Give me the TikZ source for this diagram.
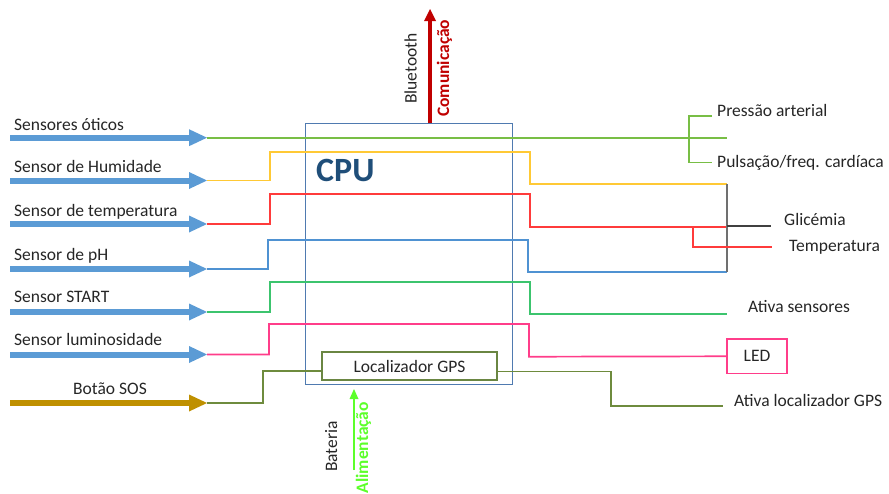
\documentclass[tikz,border=0pt]{standalone}
\usepackage{fontspec}
\setmainfont{Carlito}
\usetikzlibrary{arrows.meta,calc}
\definecolor{txt}{HTML}{262626}
\definecolor{inblue}{HTML}{5B9BD5}
\definecolor{ingold}{HTML}{BF9000}
\definecolor{lgreen}{HTML}{78BE45}
\definecolor{lyellow}{HTML}{FFC935}
\definecolor{lred}{HTML}{FF3B3B}
\definecolor{lblue}{HTML}{4F92D2}
\definecolor{lgreen2}{HTML}{3CC46E}
\definecolor{lpink}{HTML}{FF3D8A}
\definecolor{lolive}{HTML}{6E8B3D}
\definecolor{cpuborder}{HTML}{4F7AB0}
\definecolor{cputext}{HTML}{1F4E79}
\definecolor{gpsborder}{HTML}{6A8642}
\definecolor{darkred}{HTML}{C00000}
\definecolor{brightgreen}{HTML}{5CFF2A}
\definecolor{lgrey}{HTML}{707070}
\definecolor{dgrey}{HTML}{404040}
\begin{document}
\begin{tikzpicture}[x=1pt,y=-1pt,
  lbl/.style={anchor=base west,inner sep=0pt,font=\fontsize{17.5}{20}\selectfont,text=txt},
  inarrow/.style={line width=6pt,-{Triangle[length=18pt,width=17pt,line width=0pt]}},
  wire/.style={line width=1.7pt},
  boxstyle/.style={draw,line width=1.4pt,inner sep=0pt,font=\fontsize{17.5}{20}\selectfont,text=txt}]
\useasboundingbox (0,0) rectangle (889,493);

% CPU box
\node[draw=cpuborder,line width=1.3pt,minimum width=207pt,minimum height=261pt,inner sep=0pt] (cpu) at (409.2,253.8) {};
\node[anchor=base west,inner sep=0pt,font=\fontsize{34}{36}\selectfont\bfseries,text=cputext] (cpulbl) at (316,181.7) {CPU};

% GPS box
\node[boxstyle,draw=gpsborder,minimum width=175pt,minimum height=28pt] (gps) at (409.5,366) {Localizador GPS};
% LED box
\node[boxstyle,draw=lpink,minimum width=60pt,minimum height=34.7pt] (led) at (757,356.3) {LED};

% left labels
\node[lbl] (l1) at (14,130) {Sensores óticos};
\node[lbl] (l2) at (14,172.7) {Sensor de Humidade};
\node[lbl] (l3) at (14,216.7) {Sensor de temperatura};
\node[lbl] (l4) at (14,260) {Sensor de pH};
\node[lbl] (l5) at (14,302.7) {Sensor START};
\node[lbl] (l6) at (14,345) {Sensor luminosidade};
\node[lbl] (l7) at (73,394) {Botão SOS};

% arrow coordinates
\foreach \i/\y in {1/137.7,2/180.5,3/224,4/269,5/312,6/354.5,7/403}{
  \coordinate (s\i) at (10,\y);
  \coordinate (t\i) at (207,\y);
}
\foreach \i in {1,...,6}{\draw[inarrow,inblue] (s\i) -- (t\i);}
\draw[inarrow,ingold] (s7) -- (t7);

% right side labels
\node[lbl] (r1) at (717,116.7) {Pressão arterial};
\node[lbl] (r2) at (717,167.3) {Pulsação/freq. cardíaca};
\node[lbl] (r3) at (784,225) {Glicémia};
\node[lbl] (r4) at (789,251.7) {Temperatura};
\node[lbl] (r5) at (748,312.7) {Ativa sensores};
\node[lbl] (r7) at (734,406.7) {Ativa localizador GPS};

% output end coordinates
\coordinate (e1) at (727,137.7);
\coordinate (e2) at (727,184);
\coordinate (e3) at (727,226.7);
\coordinate (e4) at (727,271.7);
\coordinate (e5) at (727,313.7);
\coordinate (e7) at (723,406);

% wires
\draw[wire,lgreen] (t1) -- (e1);
\draw[wire,lyellow] (t2) -| (270,151.7) -| (530,184) -- (e2);
\draw[wire,lred] (t3) -| (270,194) -| (530,226.7) -- (e3);
\draw[wire,lblue] (t4) -| (268,240) -| (528,271.7) -- (e4);
\draw[wire,lgreen2] (t5) -| (270,281.7) -| (530,313.7) -- (e5);
\draw[wire,lpink] (t6) -| (269,324) -| (529,356.7) -- (led.west);
\draw[wire,lolive] (t7) -| (263,371) -- ([yshift=-5pt]gps.west);
\draw[wire,lolive] ([yshift=-5.5pt]gps.east) -| (611,406) -- (e7);

% right side bracket (green)
\coordinate (bt) at (689,116);
\coordinate (bb) at (689,162.7);
\draw[line width=1.4pt,lgreen] (712,116) -- (bt) -- (bb) -- (712,162.7);

% grey collector
\draw[line width=2.2pt,lgrey] (e2) -- (e4);
\draw[line width=1.6pt,dgrey] (727,226) -- (771,226);
\draw[wire,lred] (693,226.7) -- (693,246.7) -- (772,246.7);

% Bluetooth arrow
\coordinate (bt0) at (430,123.3);
\coordinate (bt1) at (430,9);
\draw[line width=4.5pt,darkred,-{Triangle[length=12pt,width=12pt,line width=0pt]}] (bt0) -- (bt1);
\node[anchor=base west,inner sep=0pt,rotate=90,font=\fontsize{17.5}{20}\selectfont,text=txt] (blue) at (416.7,104) {Bluetooth};
\node[anchor=base west,inner sep=0pt,rotate=90,font=\fontsize{17.5}{20}\selectfont\bfseries,text=darkred] (com) at (449,117) {Comunicação};

% Alimentacao arrow
\coordinate (al0) at (354,470);
\coordinate (al1) at (354,389);
\draw[line width=2.8pt,brightgreen,-{Triangle[length=10pt,width=9pt,line width=0pt]}] (al0) -- (al1);
\node[anchor=base west,inner sep=0pt,rotate=90,font=\fontsize{17.5}{20}\selectfont,text=txt] (bat) at (337,472) {Bateria};
\node[anchor=base west,inner sep=0pt,rotate=90,font=\fontsize{17.5}{20}\selectfont\bfseries,text=brightgreen] (alim) at (368,493.5) {Alimentação};
\end{tikzpicture}
\end{document}
